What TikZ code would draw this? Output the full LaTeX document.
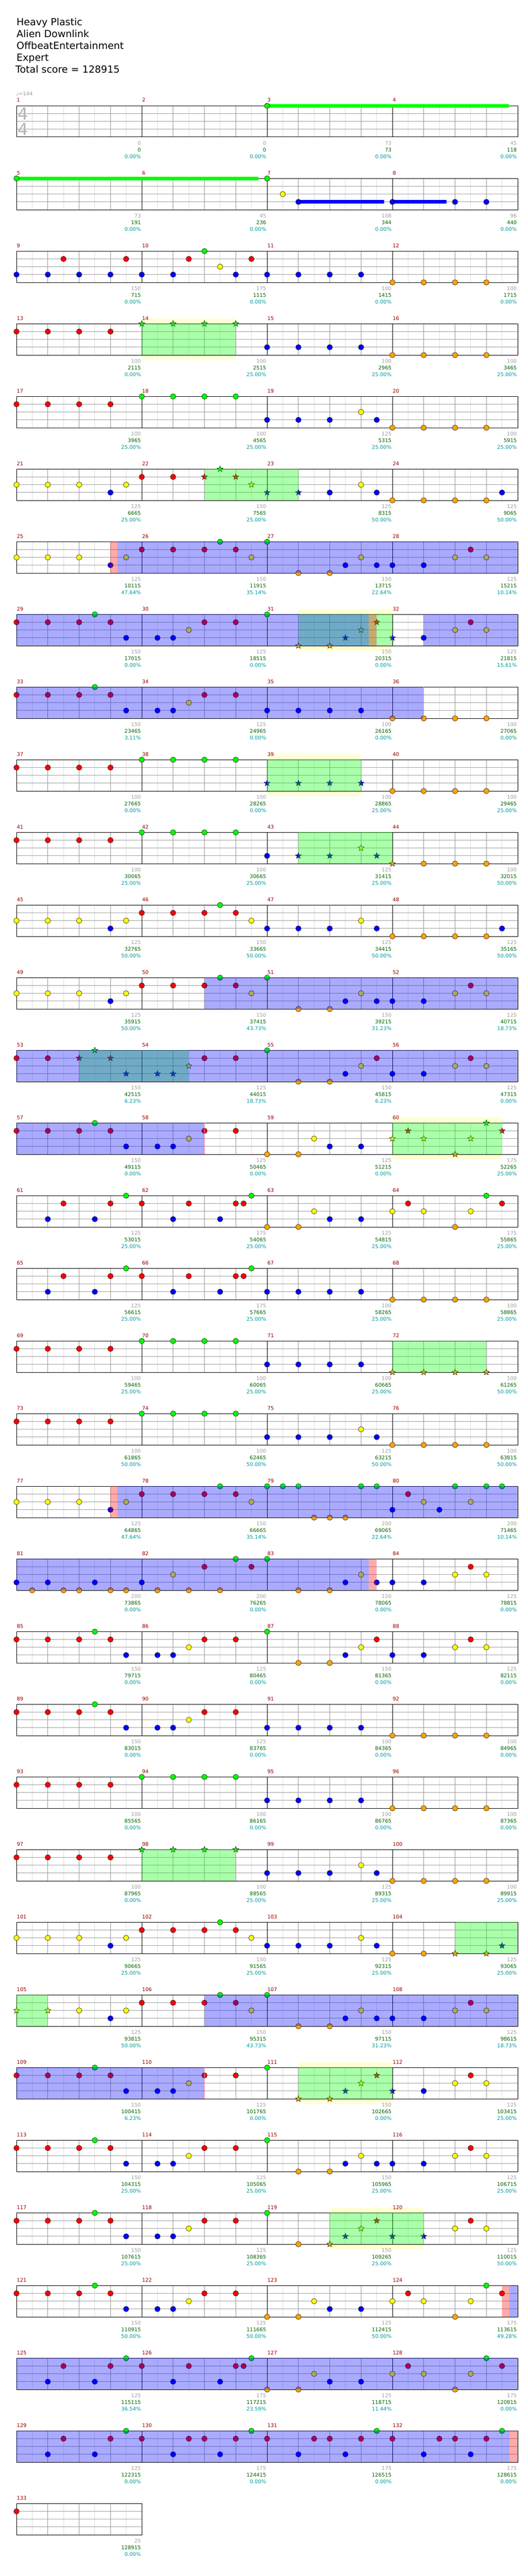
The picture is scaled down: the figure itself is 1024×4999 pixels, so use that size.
\documentclass[tikz,border=0pt]{standalone}
\usepackage{fontspec}
\setmainfont{DejaVu Sans}
\definecolor{lane0}{HTML}{00FF00}
\definecolor{lane1}{HTML}{FF0000}
\definecolor{lane2}{HTML}{FFFF00}
\definecolor{lane3}{HTML}{0000FF}
\definecolor{lane4}{HTML}{FFA500}
\definecolor{mnum}{HTML}{990000}
\definecolor{sgray}{HTML}{A0A0A0}
\definecolor{sgreen}{HTML}{006400}
\definecolor{steal}{HTML}{009C9C}
\definecolor{gridlt}{HTML}{DDDDDD}
\definecolor{gridmd}{HTML}{999999}
\definecolor{lanegray}{HTML}{A0A0A0}
\definecolor{spyellow}{HTML}{FFFFD2}
\definecolor{tsgray}{HTML}{B4B4B4}
\newcommand\HsetT[1]{\pgfmathsetmacro\rT{205.3+141*(#1)}}
\newcommand\Hstaff[2]{%
  \HsetT{#1}%
  \pgfmathsetmacro\rW{60.75*(#2)}%
  \fill[white] (32,\rT) rectangle ++(\rW,60.7);
  \pgfmathtruncatemacro\nh{2*(#2)-1}%
  \foreach \k in {1,3,...,\nh}{\draw[gridlt,line width=0.8pt] ({32+30.375*\k},\rT) -- ++(0,60.7);}
  \foreach \j in {1,2,3}{\draw[lanegray,line width=1pt] (32,{\rT+15.175*\j}) -- ++(\rW,0);}
  \pgfmathtruncatemacro\nb{(#2)-1}%
  \foreach \k in {1,...,\nb}{\draw[gridmd,line width=0.8pt] ({32+60.75*\k},\rT) -- ++(0,60.7);}
  \foreach \k in {4,8,12}{\ifnum\k<#2\relax\draw[black,line width=0.8pt] ({32+60.75*\k},\rT) -- ++(0,60.7);\fi}
  \draw[black,line width=1pt] (32,\rT) rectangle ++(\rW,60.7);
}
\newcommand\Hnotes[3]{\HsetT{#1}\foreach \bb in {#3}{\filldraw[fill=lane#2,draw=black,line width=0.5pt] ({32+60.75*\bb},{\rT+15.175*#2}) circle[radius=5.3];}}
\newcommand\Hstars[3]{\HsetT{#1}\foreach \bb in {#3}{\filldraw[fill=lane#2,draw=black,line width=0.5pt,shift={({32+60.75*\bb},{\rT+15.175*#2})}] (-90:6.2) -- (-54:2.6) -- (-18:6.2) -- (18:2.6) -- (54:6.2) -- (90:2.6) -- (126:6.2) -- (162:2.6) -- (198:6.2) -- (234:2.6) -- cycle;}}
\newcommand\Hsus[4]{\HsetT{#1}\fill[lane#2] ({32+60.75*#3},{\rT+15.175*#2-3.5}) rectangle (#4,{\rT+15.175*#2+3.5});}
\newcommand\Hybg[3]{\HsetT{#1}\fill[spyellow] ({32+60.75*#2},{\rT-10.7}) rectangle ({32+60.75*#3},{\rT+70.7});}
\newcommand\Hgreen[3]{\HsetT{#1}\fill[lane0,fill opacity=0.333] ({32+60.75*#2},\rT) rectangle ({32+60.75*#3},{\rT+60.7});}
\newcommand\Hblue[3]{\HsetT{#1}\fill[lane3,fill opacity=0.333] ({32+60.75*#2},\rT) rectangle ({32+60.75*#3},{\rT+60.7});}
\newcommand\Hred[3]{\HsetT{#1}\fill[lane1,fill opacity=0.333] ({32+60.75*#2},\rT) rectangle ({32+60.75*#3},{\rT+60.7});}
\newcommand\Hedge[2]{\HsetT{#1}\draw[color=lane1!45,line width=1pt] ({32+60.75*#2},\rT) -- ++(0,60.7);}
\tikzset{
  ttl/.style={anchor=base west,inner sep=0pt,font=\fontsize{19}{22}\selectfont},
  labtxt/.style={anchor=base east,inner sep=0pt,font=\fontsize{10}{12}\selectfont},
  mntxt/.style={anchor=base west,inner sep=0pt,text=mnum,font=\fontsize{10}{12}\selectfont}
}
\begin{document}
\begin{tikzpicture}[x=1pt,y=-1pt]
\useasboundingbox (0,0) rectangle (1024,4999);
\fill[white] (0,0) rectangle (1024,4999);
% title
\node[ttl] (t1) at (32,49.3) {Heavy Plastic};
\node[ttl] (t2) at (32,72.3) {Alien Downlink};
\node[ttl] (t3) at (32,95.5) {OffbeatEntertainment};
\node[ttl] (t4) at (32,118.3) {Expert};
\node[ttl] (t5) at (30,141.5) {Total score = 128915};
\node[anchor=base west,inner sep=0pt,text=sgray,font=\fontsize{10}{12}\selectfont] (tempo) at (31,185.5) {♩=144};
% yellow backgrounds
\Hybg{3}{4}{7}
\Hybg{7}{9}{12}
\Hybg{9}{8}{11}
\Hybg{14}{12}{15.5}
\Hybg{27}{9}{12}
\Hybg{29}{10}{13}
% staffs
\foreach \r in {0,...,32}{\Hstaff{\r}{16}}
\Hstaff{33}{4}
% time signature
\node[anchor=base west,inner sep=0pt,text=tsgray,font=\fontsize{32}{32}\selectfont] (ts1) at (34.5,232.8) {4};
\node[anchor=base west,inner sep=0pt,text=tsgray,font=\fontsize{32}{32}\selectfont] (ts2) at (34.5,262.8) {4};
% sustains
\Hsus{0}{0}{8}{987}
\Hsus{1}{0}{0}{501}
\Hsus{1}{3}{9}{745}
\Hsus{1}{3}{12}{866}
% notes
\Hnotes{0}{0}{8}
\Hnotes{1}{0}{0,8}\Hnotes{1}{2}{8.5}\Hnotes{1}{3}{9,12,14,15}
\Hnotes{2}{0}{6}\Hnotes{2}{1}{1.5,3.5,5.5,7.5}\Hnotes{2}{2}{6.5}\Hnotes{2}{3}{0,1,2,3,4,5,7,8,9,10,11}\Hnotes{2}{4}{12,13,14,15}
\Hnotes{3}{1}{0,1,2,3}\Hstars{3}{0}{4,5,6,7}\Hnotes{3}{3}{8,9,10,11}\Hnotes{3}{4}{12,13,14,15}
\Hnotes{4}{1}{0,1,2,3}\Hnotes{4}{0}{4,5,6,7}\Hnotes{4}{3}{8,9,10,11.5}\Hnotes{4}{2}{11}\Hnotes{4}{4}{12,13,14,15}
\Hnotes{5}{2}{0,1,2,3.5,11}\Hnotes{5}{3}{3,10,11.5,15.5}\Hnotes{5}{1}{4,5}\Hstars{5}{1}{6,7}\Hstars{5}{0}{6.5}\Hstars{5}{2}{7.5}\Hstars{5}{3}{8,9}\Hnotes{5}{4}{12,13,14,15}
\Hnotes{6}{2}{0,1,2,3.5,7.5,11,14,15}\Hnotes{6}{3}{3,10.5,11.5,12,13}\Hnotes{6}{1}{4,5,6,7,14.5}\Hnotes{6}{0}{6.5,8}\Hnotes{6}{4}{9,10}
\Hnotes{7}{1}{0,1,2,3,6,7,14.5}\Hnotes{7}{0}{2.5,8}\Hnotes{7}{3}{3.5,4.5,5,13}\Hnotes{7}{2}{5.5,14,15}\Hstars{7}{4}{9,10}\Hstars{7}{3}{10.5,12}\Hstars{7}{2}{11}\Hstars{7}{1}{11.5}
\Hnotes{8}{1}{0,1,2,3,6,7}\Hnotes{8}{0}{2.5}\Hnotes{8}{3}{3.5,4.5,5,8,9,10,11}\Hnotes{8}{2}{5.5}\Hnotes{8}{4}{12,13,14,15}
\Hnotes{9}{1}{0,1,2,3}\Hnotes{9}{0}{4,5,6,7}\Hstars{9}{3}{8,9,10,11}\Hnotes{9}{4}{12,13,14,15}
\Hnotes{10}{1}{0,1,2,3}\Hnotes{10}{0}{4,5,6,7}\Hnotes{10}{3}{8}\Hstars{10}{3}{9,10,11.5}\Hstars{10}{2}{11}\Hstars{10}{4}{12}\Hnotes{10}{4}{13,14,15}
\Hnotes{11}{2}{0,1,2,3.5,7.5,11}\Hnotes{11}{3}{3,8,9,10,11.5,15.5}\Hnotes{11}{1}{4,5,6,7}\Hnotes{11}{0}{6.5}\Hnotes{11}{4}{12,13,14,15}
\Hnotes{12}{2}{0,1,2,3.5,7.5,11,14,15}\Hnotes{12}{3}{3,10.5,11.5,12,13}\Hnotes{12}{1}{4,5,6,7,14.5}\Hnotes{12}{0}{6.5,8}\Hnotes{12}{4}{9,10}
\Hnotes{13}{1}{0,1,6,7,11.5,14.5}\Hstars{13}{1}{2,3}\Hstars{13}{0}{2.5}\Hstars{13}{3}{3.5,4.5,5}\Hstars{13}{2}{5.5}\Hnotes{13}{0}{8}\Hnotes{13}{4}{9,10}\Hnotes{13}{3}{10.5,12,13}\Hnotes{13}{2}{11,14,15}
\Hnotes{14}{1}{0,1,2,3,6,7}\Hnotes{14}{0}{2.5}\Hnotes{14}{3}{3.5,4.5,5,10,11}\Hnotes{14}{2}{5.5,9.5}\Hnotes{14}{4}{8,9}\Hstars{14}{2}{12,13,14.5}\Hstars{14}{1}{12.5,15.5}\Hstars{14}{4}{14}\Hstars{14}{0}{15}
\Hnotes{15}{3}{1,2.5,5,6.5,10,11}\Hnotes{15}{1}{1.5,3,4,5.5,7,7.25,12.5,15.5}\Hnotes{15}{0}{3.5,7.5,15}\Hnotes{15}{4}{8,9,14}\Hnotes{15}{2}{9.5,12,13,14.5}
\Hnotes{16}{3}{1,2.5,5,6.5,8,9,10,11}\Hnotes{16}{1}{1.5,3,4,5.5,7,7.25}\Hnotes{16}{0}{3.5,7.5}\Hnotes{16}{4}{12,13,14,15}
\Hnotes{17}{1}{0,1,2,3}\Hnotes{17}{0}{4,5,6,7}\Hnotes{17}{3}{8,9,10,11}\Hstars{17}{4}{12,13,14,15}
\Hnotes{18}{1}{0,1,2,3}\Hnotes{18}{0}{4,5,6,7}\Hnotes{18}{3}{8,9,10,11.5}\Hnotes{18}{2}{11}\Hnotes{18}{4}{12,13,14,15}
\Hnotes{19}{2}{0,1,2,3.5,7.5,13,14.5}\Hnotes{19}{3}{3,12,13.5}\Hnotes{19}{1}{4,5,6,7,12.5}\Hnotes{19}{0}{6.5,8,8.5,9,11,11.5,14,15,15.5}\Hnotes{19}{4}{9.5,10,10.5}
\Hnotes{20}{3}{0,1,2.5,4,10.5,11.5,12,13}\Hnotes{20}{4}{0.5,1.5,2,3,3.5,4.5,5.5,6.5,9,10}\Hnotes{20}{2}{5,11,14,15}\Hnotes{20}{1}{6,7.5,14.5}\Hnotes{20}{0}{7,8}
\Hnotes{21}{1}{0,1,2,3,6,7,11.5,14.5}\Hnotes{21}{0}{2.5,8}\Hnotes{21}{3}{3.5,4.5,5,10.5,12,13}\Hnotes{21}{2}{5.5,11,14,15}\Hnotes{21}{4}{9,10}
\Hnotes{22}{1}{0,1,2,3,6,7}\Hnotes{22}{0}{2.5}\Hnotes{22}{3}{3.5,4.5,5,8,9,10,11}\Hnotes{22}{2}{5.5}\Hnotes{22}{4}{12,13,14,15}
\Hnotes{23}{1}{0,1,2,3}\Hnotes{23}{0}{4,5,6,7}\Hnotes{23}{3}{8,9,10,11}\Hnotes{23}{4}{12,13,14,15}
\Hnotes{24}{1}{0,1,2,3}\Hstars{24}{0}{4,5,6,7}\Hnotes{24}{3}{8,9,10,11.5}\Hnotes{24}{2}{11}\Hnotes{24}{4}{12,13,14,15}
\Hnotes{25}{2}{0,1,2,3.5,7.5,11}\Hnotes{25}{3}{3,8,9,10,11.5}\Hnotes{25}{1}{4,5,6,7}\Hnotes{25}{0}{6.5}\Hnotes{25}{4}{12,13}\Hstars{25}{4}{14,15}\Hstars{25}{3}{15.5}
\Hstars{26}{2}{0,1}\Hnotes{26}{2}{2,3.5,7.5,11,14,15}\Hnotes{26}{3}{3,10.5,11.5,12,13}\Hnotes{26}{1}{4,5,6,7,14.5}\Hnotes{26}{0}{6.5,8}\Hnotes{26}{4}{9,10}
\Hnotes{27}{1}{0,1,2,3,6,7,14.5}\Hnotes{27}{0}{2.5,8}\Hnotes{27}{3}{3.5,4.5,5,13}\Hnotes{27}{2}{5.5,14,15}\Hstars{27}{4}{9,10}\Hstars{27}{3}{10.5,12}\Hstars{27}{2}{11}\Hstars{27}{1}{11.5}
\Hnotes{28}{1}{0,1,2,3,6,7,14.5}\Hnotes{28}{0}{2.5,8}\Hnotes{28}{3}{3.5,4.5,5,10.5,11.5,12,13}\Hnotes{28}{2}{5.5,11,14,15}\Hnotes{28}{4}{9,10}
\Hnotes{29}{1}{0,1,2,3,6,7,14.5}\Hnotes{29}{0}{2.5,8}\Hnotes{29}{3}{3.5,4.5,5}\Hnotes{29}{2}{5.5,14,15}\Hnotes{29}{4}{9}\Hstars{29}{4}{10}\Hstars{29}{3}{10.5,12,13}\Hstars{29}{2}{11}\Hstars{29}{1}{11.5}
\Hnotes{30}{1}{0,1,2,3,6,7,12.5,15.5}\Hnotes{30}{0}{2.5,15}\Hnotes{30}{3}{3.5,4.5,5,10,11}\Hnotes{30}{2}{5.5,9.5,12,13,14.5}\Hnotes{30}{4}{8,9,14}
\Hnotes{31}{3}{1,2.5,5,6.5,10,11}\Hnotes{31}{1}{1.5,3,4,5.5,7,7.25,12.5,15.5}\Hnotes{31}{0}{3.5,7.5,15}\Hnotes{31}{4}{8,9,14}\Hnotes{31}{2}{9.5,12,13,14.5}
\Hnotes{32}{3}{1,2.5,5,6.5,9,10.5,13,14.5}\Hnotes{32}{1}{1.5,3,4,5.5,6,7,8,9.5,10,11,12,13.5,14,15}\Hnotes{32}{0}{3.5,7.5,11.5,15.5}
\Hnotes{33}{1}{0}
% star power phrases (green)
\Hgreen{3}{4}{7}\Hgreen{5}{6}{9}\Hgreen{7}{9}{12}\Hgreen{9}{8}{11}\Hgreen{10}{9}{12}
\Hgreen{13}{2}{5.5}\Hgreen{14}{12}{15.5}\Hgreen{17}{12}{15}\Hgreen{24}{4}{7}
\Hgreen{25}{14}{16}\Hgreen{26}{0}{1}\Hgreen{27}{9}{12}\Hgreen{29}{10}{13}
% activations (blue)
\Hblue{6}{3.234}{16}\Hblue{7}{0}{11.236}\Hblue{7}{13}{16}\Hblue{8}{0}{13}
\Hblue{12}{6}{16}\Hblue{13}{0}{16}\Hblue{14}{0}{6}\Hblue{19}{3.234}{16}
\Hblue{20}{0}{11.236}\Hblue{26}{6}{16}\Hblue{27}{0}{6}\Hblue{30}{15.74}{16}
\Hblue{31}{0}{16}\Hblue{32}{0}{15.74}
% red strips
\Hred{6}{3}{3.234}\Hred{7}{11.236}{11.497}\Hred{19}{3}{3.234}\Hred{20}{11.236}{11.497}
\Hred{30}{15.5}{15.74}\Hred{32}{15.74}{16}
\Hedge{8}{13}\Hedge{14}{6}\Hedge{27}{6}
% measure numbers and scores
\foreach \mm/\gs/\cs/\ps in {1/0/0/0.00,2/0/0/0.00,3/73/73/0.00,4/45/118/0.00,
5/73/191/0.00,6/45/236/0.00,7/108/344/0.00,8/96/440/0.00,
9/150/715/0.00,10/175/1115/0.00,11/100/1415/0.00,12/100/1715/0.00,
13/100/2115/0.00,14/100/2515/25.00,15/100/2965/25.00,16/100/3465/25.00,
17/100/3965/25.00,18/100/4565/25.00,19/125/5315/25.00,20/100/5915/25.00,
21/125/6665/25.00,22/150/7565/25.00,23/125/8315/50.00,24/125/9065/50.00,
25/125/10115/47.64,26/150/11915/35.14,27/150/13715/22.64,28/125/15215/10.14,
29/150/17015/0.00,30/125/18515/0.00,31/150/20315/0.00,32/125/21815/15.61,
33/150/23465/3.11,34/125/24965/0.00,35/100/26165/0.00,36/100/27065/0.00,
37/100/27665/0.00,38/100/28265/0.00,39/100/28865/25.00,40/100/29465/25.00,
41/100/30065/25.00,42/100/30665/25.00,43/125/31415/25.00,44/100/32015/50.00,
45/125/32765/50.00,46/150/33665/50.00,47/125/34415/50.00,48/125/35165/50.00,
49/125/35915/50.00,50/150/37415/43.73,51/150/39215/31.23,52/125/40715/18.73,
53/150/42515/6.23,54/125/44015/18.73,55/150/45815/6.23,56/125/47315/0.00,
57/150/49115/0.00,58/125/50465/0.00,59/125/51215/0.00,60/175/52265/25.00,
61/125/53015/25.00,62/175/54065/25.00,63/125/54815/25.00,64/175/55865/25.00,
65/125/56615/25.00,66/175/57665/25.00,67/100/58265/25.00,68/100/58865/25.00,
69/100/59465/25.00,70/100/60065/25.00,71/100/60665/25.00,72/100/61265/50.00,
73/100/61865/50.00,74/100/62465/50.00,75/125/63215/50.00,76/100/63815/50.00,
77/125/64865/47.64,78/150/66665/35.14,79/200/69065/22.64,80/200/71465/10.14,
81/200/73865/0.00,82/200/76265/0.00,83/150/78065/0.00,84/125/78815/0.00,
85/150/79715/0.00,86/125/80465/0.00,87/150/81365/0.00,88/125/82115/0.00,
89/150/83015/0.00,90/125/83765/0.00,91/100/84365/0.00,92/100/84965/0.00,
93/100/85565/0.00,94/100/86165/0.00,95/100/86765/0.00,96/100/87365/0.00,
97/100/87965/0.00,98/100/88565/25.00,99/125/89315/25.00,100/100/89915/25.00,
101/125/90665/25.00,102/150/91565/25.00,103/125/92315/25.00,104/125/93065/25.00,
105/125/93815/50.00,106/150/95315/43.73,107/150/97115/31.23,108/125/98615/18.73,
109/150/100415/6.23,110/125/101765/0.00,111/150/102665/0.00,112/125/103415/25.00,
113/150/104315/25.00,114/125/105065/25.00,115/150/105965/25.00,116/125/106715/25.00,
117/150/107615/25.00,118/125/108365/25.00,119/150/109265/25.00,120/125/110015/50.00,
121/150/110915/50.00,122/125/111665/50.00,123/125/112415/50.00,124/175/113615/49.28,
125/125/115115/36.54,126/175/117215/23.59,127/125/118715/11.44,128/175/120815/0.00,
129/125/122315/0.00,130/175/124415/0.00,131/175/126515/0.00,132/175/128615/0.00,
133/25/128915/0.00}{
  \pgfmathtruncatemacro\rr{(\mm-1)/4}
  \pgfmathtruncatemacro\ii{\mm-1-4*\rr}
  \pgfmathsetmacro\rT{205.3+141*\rr}
  \pgfmathsetmacro\X{32+243*\ii}
  \node[mntxt] (mn\mm) at ({\X+0.3},{\rT-7.3}) {\mm};
  \node[labtxt,text=sgray] (ga\mm) at ({\X+241.5},{\rT+76.4}) {\gs};
  \node[labtxt,text=sgreen] (gb\mm) at ({\X+241.5},{\rT+89.4}) {\cs};
  \node[labtxt,text=steal] (gc\mm) at ({\X+241.5},{\rT+102.4}) {\ps\%};
}
\end{tikzpicture}
\end{document}
